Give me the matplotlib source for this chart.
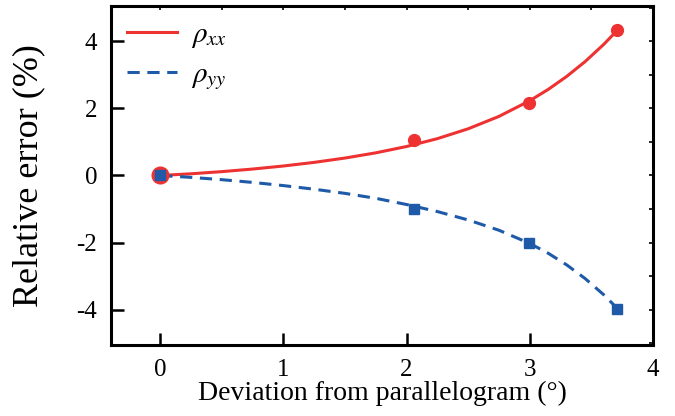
import numpy as np
import matplotlib
matplotlib.use('Agg')
import matplotlib.pyplot as plt

# measured points
X_PTS = [0, 2.06, 2.99, 3.71]
RHO_XX = [0, 1.07, 2.15, 4.32]
RHO_YY = [0, -1.0, -2.0, -3.97]

# fitted curves
X_FIT = [0, 0.25, 0.5, 0.75, 1.0, 1.25, 1.5, 1.75, 2.0, 2.25, 2.5, 2.75,
         3.0, 3.15, 3.3, 3.45, 3.6, 3.71]
XX_FIT = [0, 0.051, 0.115, 0.192, 0.283, 0.391, 0.520, 0.675, 0.864, 1.098,
          1.392, 1.761, 2.229, 2.566, 2.953, 3.397, 3.906, 4.325]
YY_FIT = [0, -0.056, -0.125, -0.206, -0.301, -0.409, -0.533, -0.680, -0.865,
          -1.075, -1.325, -1.632, -2.025, -2.318, -2.665, -3.073, -3.553, -3.959]

RED = '#ee3131'
BLUE = '#1f5aa8'

plt.rcParams['font.family'] = 'Liberation Serif'
plt.rcParams['mathtext.fontset'] = 'stix'
plt.rcParams['axes.unicode_minus'] = False

fig = plt.figure(figsize=(6.75, 4.16), dpi=100)
ax = fig.add_axes([0.1644, 0.1707, 0.8030, 0.8149])

ax.plot(X_FIT, XX_FIT, color=RED, lw=2.2, label=r'$\rho_{xx}$')
ax.plot(X_FIT, YY_FIT, color=BLUE, lw=2.2, dashes=(4, 2.5), label=r'$\rho_{yy}$')
ax.plot(X_PTS[:1], RHO_XX[:1], 'o', color=RED, ms=12, zorder=3)
ax.plot(X_PTS[1:], RHO_XX[1:], 'o', color=RED, ms=8.5, zorder=3)
ax.plot(X_PTS, RHO_YY, 's', color=BLUE, ms=7.5, zorder=4)

ax.set_xlim(-0.4, 4.0)
ax.set_ylim(-5.05, 5.05)
ax.set_xticks([0, 1, 2, 3, 4])
ax.set_yticks([-4, -2, 0, 2, 4])
ax.tick_params(direction='in', length=9, width=1.8, labelsize=18, pad=10,
               top=False, right=False)
for s in ax.spines.values():
    s.set_linewidth(2.2)

top = ax.secondary_xaxis('top')
top.set_xticks(np.arange(0, 4.01, 0.5))
top.tick_params(direction='in', length=3, width=1.2, labeltop=False)
top.spines['top'].set_visible(False)
right = ax.secondary_yaxis('right')
right.set_yticks(np.arange(-5, 5.01, 1))
right.tick_params(direction='in', length=3, width=1.2, labelright=False)
right.spines['right'].set_visible(False)

ax.set_xlabel('Deviation from parallelogram (°)', fontsize=20, labelpad=0)
ax.set_ylabel('Relative error (%)', fontsize=26, labelpad=22)

ax.legend(loc='upper left', frameon=False, fontsize=21, handlelength=1.7,
          labelspacing=0.38, borderaxespad=0.15, handletextpad=0.5)

fig.savefig('out.png', dpi=100)
